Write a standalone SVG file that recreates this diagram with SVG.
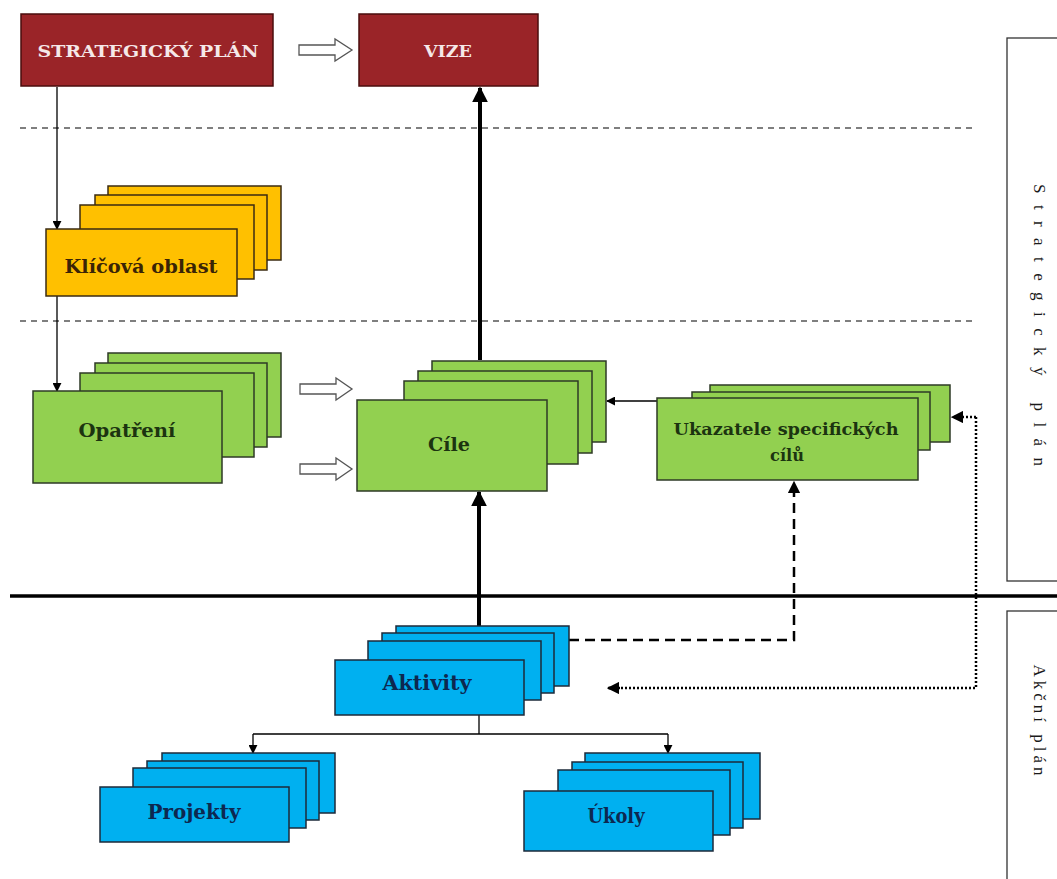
<svg xmlns="http://www.w3.org/2000/svg" width="1057" height="879" viewBox="0 0 1057 879">
<defs>
<marker id="ah" viewBox="0 0 10 10" refX="9" refY="5" markerWidth="9" markerHeight="9" markerUnits="userSpaceOnUse" orient="auto"><path d="M0,0 L10,5 L0,10 z" fill="#000"/></marker>
<marker id="ahb" viewBox="0 0 10 10" refX="9" refY="5" markerWidth="4" markerHeight="4" orient="auto"><path d="M0,0 L10,5 L0,10 z" fill="#000"/></marker>
<marker id="ahm" viewBox="0 0 10 10" refX="9" refY="5" markerWidth="5" markerHeight="5" orient="auto"><path d="M0,0 L10,5 L0,10 z" fill="#000"/></marker>
</defs>
<style>
.red{fill:#9a2428;stroke:#4a0c0c;stroke-width:1.5}
.yel{fill:#ffc000;stroke:#3b2b12;stroke-width:1.5}
.grn{fill:#92d050;stroke:#2e3a26;stroke-width:1.5}
.blu{fill:#00b0f0;stroke:#1c2a3a;stroke-width:1.5}
.t{font-family:"DejaVu Serif","Liberation Serif",serif;font-weight:bold;text-anchor:middle}
.tr{fill:#f5e8e8;font-size:17px}
.ty{fill:#3a2406;font-size:18px}
.tg{fill:#1c3410;font-size:18px}
.tb{fill:#0d2850;font-size:20px}
.side{font-family:"Liberation Serif",serif;font-size:17px;fill:#1a1a1a;text-anchor:middle}
.hol{fill:#fff;stroke:#555;stroke-width:1.3}
.thin{stroke:#000;stroke-width:1.3;fill:none}
.sep{stroke:#555;stroke-width:1.3;stroke-dasharray:6 5;fill:none}
</style>
<rect width="1057" height="879" fill="#fff"/>
<g id="frame">
<line class="sep" x1="20" y1="128" x2="975" y2="128"/>
<line class="sep" x1="20" y1="321" x2="975" y2="321"/>
<line x1="10" y1="596" x2="1057" y2="596" stroke="#000" stroke-width="3.5"/>
<rect x="1007" y="38" width="60" height="543" fill="#fff" stroke="#333" stroke-width="1.3"/>
<rect x="1007" y="611" width="60" height="290" fill="#fff" stroke="#333" stroke-width="1.3"/>
<text class="side" transform="translate(1034,325) rotate(90)" textLength="282" lengthAdjust="spacing">Strategický plán</text>
<text class="side" transform="translate(1034,720) rotate(90)" textLength="111" lengthAdjust="spacing">Akční plán</text>
</g>
<g id="connectors">
<path class="hol" d="M299,45 H335 V39 L352,50 L335,61 V55 H299 Z"/>
<path class="hol" d="M300,384 H336 V378 L352,389 L336,400 V394 H300 Z"/>
<path class="hol" d="M300,464 H336 V458 L352,469 L336,480 V474 H300 Z"/>
<line class="thin" x1="57" y1="87" x2="57" y2="229" marker-end="url(#ah)"/>
<line class="thin" x1="57" y1="296" x2="57" y2="391" marker-end="url(#ah)"/>
<line x1="480" y1="360" x2="480" y2="88" stroke="#000" stroke-width="4" marker-end="url(#ahb)"/>
<line x1="479" y1="626" x2="479" y2="492" stroke="#000" stroke-width="4" marker-end="url(#ahb)"/>
<line class="thin" x1="657" y1="401" x2="607" y2="401" marker-end="url(#ah)"/>
<path d="M569,640 H794 V482" fill="none" stroke="#000" stroke-width="2.5" stroke-dasharray="10 6" marker-end="url(#ahm)"/>
<path d="M976,417 V688 H609" fill="none" stroke="#000" stroke-width="2.5" stroke-dasharray="2 2"/>
<line x1="976" y1="417" x2="952" y2="417" stroke="#000" stroke-width="2.5" stroke-dasharray="2 2" marker-end="url(#ahm)"/>
<line x1="620" y1="688" x2="608" y2="688" stroke="#000" stroke-width="2.5" marker-end="url(#ahm)"/>
<path class="thin" d="M479,715 V734 M253,734 H668"/>
<line class="thin" x1="253" y1="734" x2="253" y2="753" marker-end="url(#ah)"/>
<line class="thin" x1="668" y1="734" x2="668" y2="753" marker-end="url(#ah)"/>
</g>
<g id="strategicky-plan">
<rect class="red" x="21" y="14" width="252" height="72"/>
<text class="t tr" x="148" y="57" textLength="221" lengthAdjust="spacingAndGlyphs">STRATEGICKÝ PLÁN</text>
</g>
<g id="vize">
<rect class="red" x="359" y="14" width="179" height="72"/>
<text class="t tr" x="448" y="57" textLength="48" lengthAdjust="spacingAndGlyphs">VIZE</text>
</g>
<g id="klicova-oblast">
<rect class="yel" x="108" y="186" width="173" height="74"/>
<rect class="yel" x="95" y="195" width="172" height="75"/>
<rect class="yel" x="80" y="205" width="174" height="74"/>
<rect class="yel" x="46" y="229" width="191" height="67"/>
<text class="t ty" x="141" y="273" textLength="153" lengthAdjust="spacingAndGlyphs">Klíčová oblast</text>
</g>
<g id="opatreni">
<rect class="grn" x="108" y="353" width="173" height="84"/>
<rect class="grn" x="95" y="363" width="172" height="84"/>
<rect class="grn" x="80" y="373" width="174" height="84"/>
<rect class="grn" x="33" y="391" width="189" height="92"/>
<text class="t tg" x="127" y="437" textLength="97" lengthAdjust="spacingAndGlyphs">Opatření</text>
</g>
<g id="cile">
<rect class="grn" x="432" y="361" width="174" height="81"/>
<rect class="grn" x="418" y="371" width="174" height="82"/>
<rect class="grn" x="404" y="381" width="174" height="83"/>
<rect class="grn" x="357" y="400" width="190" height="91"/>
<text class="t tg" x="449" y="451" textLength="42" lengthAdjust="spacingAndGlyphs">Cíle</text>
</g>
<g id="ukazatele">
<rect class="grn" x="710" y="385" width="240" height="57"/>
<rect class="grn" x="692" y="392" width="238" height="58"/>
<rect class="grn" x="657" y="398" width="261" height="82"/>
<text class="t tg" x="786" y="435" style="font-size:16px" textLength="225" lengthAdjust="spacingAndGlyphs">Ukazatele specifických</text>
<text class="t tg" x="787" y="461" style="font-size:16px" textLength="34" lengthAdjust="spacingAndGlyphs">cílů</text>
</g>
<g id="aktivity">
<rect class="blu" x="396" y="626" width="173" height="60"/>
<rect class="blu" x="382" y="633" width="172" height="60"/>
<rect class="blu" x="368" y="641" width="173" height="59"/>
<rect class="blu" x="335" y="660" width="189" height="55"/>
<text class="t tb" x="427" y="690" textLength="89" lengthAdjust="spacingAndGlyphs">Aktivity</text>
</g>
<g id="projekty">
<rect class="blu" x="162" y="753" width="173" height="60"/>
<rect class="blu" x="147" y="761" width="172" height="59"/>
<rect class="blu" x="133" y="768" width="173" height="60"/>
<rect class="blu" x="100" y="787" width="189" height="55"/>
<text class="t tb" x="194" y="819" textLength="93" lengthAdjust="spacingAndGlyphs">Projekty</text>
</g>
<g id="ukoly">
<rect class="blu" x="585" y="753" width="175" height="66"/>
<rect class="blu" x="572" y="762" width="171" height="66"/>
<rect class="blu" x="558" y="770" width="172" height="65"/>
<rect class="blu" x="524" y="791" width="189" height="60"/>
<text class="t tb" x="616" y="823" textLength="57" lengthAdjust="spacingAndGlyphs">Úkoly</text>
</g>
</svg>
